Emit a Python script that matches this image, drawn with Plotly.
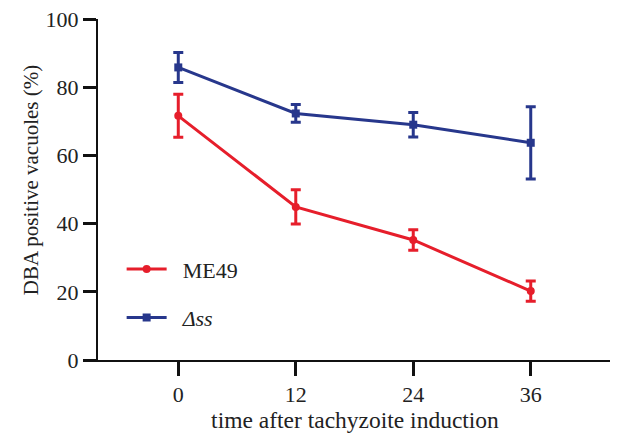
import plotly.graph_objects as go

time_h = [0, 12, 24, 36]
me49_mean = [71.6, 44.9, 35.2, 20.2]
me49_err = [6.3, 5.0, 3.0, 3.0]
dss_mean = [85.8, 72.3, 69.0, 63.7]
dss_err = [4.4, 2.6, 3.6, 10.6]

x_ticks = [0, 12, 24, 36]
y_ticks = [0, 20, 40, 60, 80, 100]

RED = "#e61e2b"
BLUE = "#27378c"
FONT = "Liberation Serif, Times New Roman, serif"
FS = 22

fig = go.Figure()
fig.add_trace(go.Scatter(
    x=time_h, y=me49_mean, name="\u2002ME49", mode="lines+markers", legendgroup="a",
    line=dict(color=RED, width=3),
    marker=dict(symbol="circle", size=8, color=RED),
    error_y=dict(type="data", array=me49_err, visible=True, color=RED, thickness=3, width=5),
))
fig.add_trace(go.Scatter(
    x=time_h, y=dss_mean, name="\u2002<i>Δss</i>", mode="lines+markers", legendgroup="b",
    line=dict(color=BLUE, width=3),
    marker=dict(symbol="square", size=8, color=BLUE),
    error_y=dict(type="data", array=dss_err, visible=True, color=BLUE, thickness=3, width=5),
))

fig.update_layout(
    width=610, height=428,
    margin=dict(l=90, r=6, t=11, b=76),
    paper_bgcolor="white", plot_bgcolor="white",
    font=dict(family=FONT, size=FS, color="#222"),
    showlegend=True,
    legend=dict(x=0.046, y=0.328, xanchor="left", yanchor="top",
                bgcolor="rgba(0,0,0,0)", font=dict(family=FONT, size=FS, color="#222"),
                tracegroupgap=17, itemwidth=40),
    xaxis=dict(
        range=[-8.2, 44.3], tickvals=x_ticks, ticktext=[str(v) for v in x_ticks],
        showgrid=False, zeroline=False, showline=True, linecolor="#111", linewidth=2,
        ticks="outside", ticklen=14, tickwidth=3, tickcolor="#111", automargin=False,
        ticklabeloverflow="allow",
        title=dict(text="time after tachyzoite induction", standoff=4,
                   font=dict(family=FONT, size=23.5, color="#222")),
        tickfont=dict(family=FONT, size=FS, color="#222"),
    ),
    yaxis=dict(
        range=[0, 100], tickvals=y_ticks,
        showgrid=False, zeroline=False, showline=True, linecolor="#111", linewidth=2,
        ticks="outside", ticklen=13, tickwidth=3, tickcolor="#111", automargin=False,
        ticklabeloverflow="allow",
        tickfont=dict(family=FONT, size=FS, color="#222"),
    ),
    annotations=[dict(
        text="DBA positive vacuoles (%)", textangle=-90,
        xref="paper", yref="paper", x=-0.130, y=0.528,
        xanchor="center", yanchor="middle", showarrow=False,
        font=dict(family=FONT, size=21, color="#222"),
    )],
)

fig.write_html("out.html")
